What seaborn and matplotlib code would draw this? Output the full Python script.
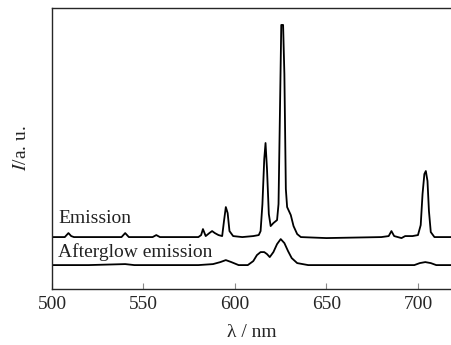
import pandas as pd
import seaborn as sns
import matplotlib.pyplot as plt

# emission spectrum (arbitrary units)
em_wl = [500, 507, 509, 510.5, 512, 538, 540, 542, 555, 557, 559, 580, 581.5, 582.5, 584,
         586, 587.5, 589, 591, 593, 594, 595, 596, 597, 599, 604, 610, 613, 614, 615,
         616, 616.7, 617.5, 618.5, 619.5, 621, 623, 623.8, 624.6, 625.3, 626.3, 627, 627.8,
         628.5, 629.5, 630.5, 632, 634, 636, 650, 680, 684, 685.5, 687, 691, 693, 697,
         700, 701.5, 702.5, 703.5, 704.3, 705.2, 706, 707, 709, 720]
em_int = [52, 52, 56, 53, 52, 52, 56, 52, 52, 54, 52, 52, 54, 60, 53,
          56, 58, 56, 54, 53, 68, 82, 76, 58, 53, 52, 53, 54, 58, 85,
          130, 146, 120, 75, 63, 66, 69, 85, 180, 264, 264, 215, 100,
          82, 78, 74, 63, 55, 52, 51, 52, 53, 58, 53, 51, 53, 53,
          54, 64, 95, 115, 118, 108, 78, 57, 52, 52]

# afterglow emission spectrum
ag_wl = [500, 520, 540, 545, 560, 580, 588, 592, 595, 598, 602, 607, 610, 612, 614,
         616, 617.5, 619, 621, 623, 625, 627, 629, 631, 634, 640, 670, 698, 701, 704,
         707, 710, 720]
ag_int = [24, 24, 25, 24, 24, 24, 25, 27, 29, 27, 24, 24, 28, 34, 37,
          37, 35, 32, 37, 45, 50, 46, 38, 31, 26, 24, 24, 24, 26, 27,
          26, 24, 24]

xticks = [500, 550, 600, 650, 700]

sns.set_theme(style="ticks")
plt.rcParams['font.family'] = ['Liberation Serif', 'DejaVu Serif']
plt.rcParams['mathtext.fontset'] = 'stix'

em_df = pd.DataFrame({"wl": em_wl, "I": em_int})
ag_df = pd.DataFrame({"wl": ag_wl, "I": ag_int})

fig = plt.figure(figsize=(4.52, 3.45), dpi=100)
ax = fig.add_axes([0.115, 0.162, 0.885, 0.815])

sns.lineplot(data=em_df, x="wl", y="I", color="black", linewidth=1.3, ax=ax)
sns.lineplot(data=ag_df, x="wl", y="I", color="black", linewidth=1.3, ax=ax)

ax.text(503.3, 66, "Emission", fontsize=14, color="#222222")
ax.text(503.3, 32, "Afterglow emission", fontsize=14, color="#222222")

ax.set_xlim(500, 718.6)
ax.set_ylim(0, 281)
ax.set_xticks(xticks)
ax.set_yticks([])
ax.tick_params(axis="x", direction="in", length=4, width=0.8, color="#888888",
               labelsize=14, pad=5)
ax.spines["right"].set_visible(False)
for s in ["left", "top", "bottom"]:
    ax.spines[s].set_linewidth(1.0)
ax.set_xlabel("λ / nm", fontsize=14, labelpad=8)
ax.set_ylabel("$I$/a. u.", fontsize=14, labelpad=16)

fig.savefig("out.png", dpi=100)
